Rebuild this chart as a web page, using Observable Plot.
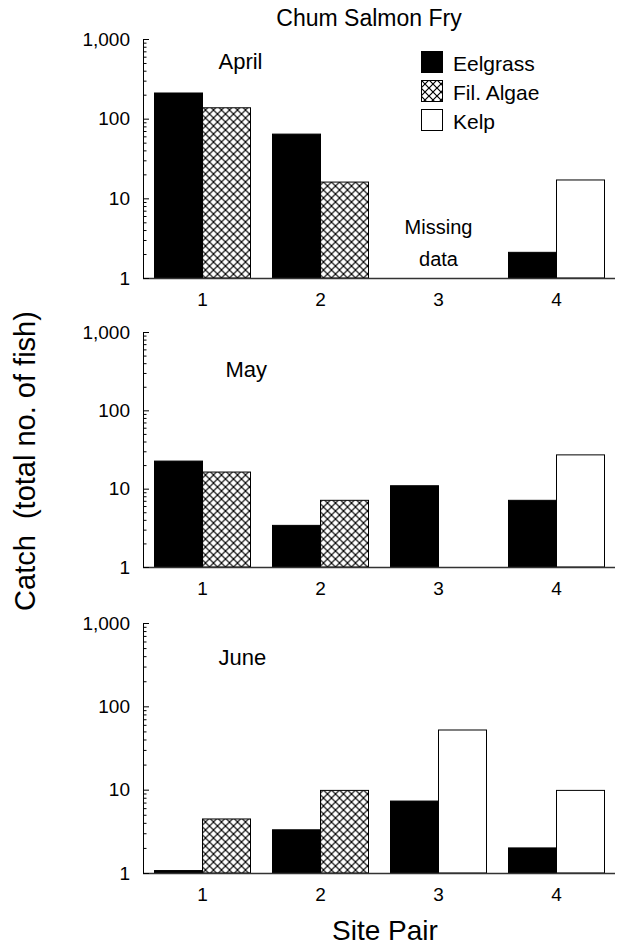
<!DOCTYPE html>
<html>
<head>
<meta charset="utf-8">
<script src="https://cdn.jsdelivr.net/npm/d3@7"></script>
<script src="https://cdn.jsdelivr.net/npm/@observablehq/plot@0.6"></script>
<style>
  html, body { margin: 0; padding: 0; background: #fff; }
  #root { position: relative; width: 617px; height: 948px; overflow: hidden; background: #fff;
          font-family: "Liberation Sans", Arial, sans-serif; color: #000; }
  #root > svg.panel { position: absolute; left: 0; }
  #overlay { position: absolute; left: 0; top: 0; pointer-events: none; overflow: visible; }
</style>
</head>
<body>
<div id="root"></div>
<script>
// ---------------- data ----------------
const sites = [1, 2, 3, 4];
const habitats = ["Eelgrass", "Fil. Algae", "Kelp"];
// habitat paired with eelgrass at each site pair
const pairedHabitat = ["Fil. Algae", "Fil. Algae", "Kelp", "Kelp"];
const months = ["April", "May", "June"];
const eelgrassApril = [210, 64, null, 2.1];
const pairedApril   = [137, 16, null, 17];
const eelgrassMay   = [22.5, 3.4, 10.9, 7.1];
const pairedMay     = [16.3, 7.1, null, 27];
const eelgrassJune  = [1.07, 3.3, 7.3, 2.0];
const pairedJune    = [4.45, 9.8, 52, 9.8];
const yTicksMajor = [1, 10, 100, 1000];
const yTickLabels = ["1", "10", "100", "1,000"];
const yTicksMinor = [2, 3, 4, 5, 6, 7, 8, 9, 20, 30, 40, 50, 60, 70, 80, 90, 200, 300, 400, 500, 600, 700, 800, 900];
const missingNote = {month: "April", site: 3, text: "Missing\ndata"};
const titleText = "Chum Salmon Fry";
const yTitle = "Catch  (total no. of fish)";
const xTitle = "Site Pair";

// ---------------- layout ----------------
const W = 617, marginLeft = 141.5, marginTop = 5, marginBottom = 45;
const panels = [
  {month: "April", eel: eelgrassApril, other: pairedApril, frameTop: 39.3, frameH: 239, labelDy: 14},
  {month: "May",   eel: eelgrassMay,   other: pairedMay,   frameTop: 331.7, frameH: 235, labelDy: 29, labelDx: 82},
  {month: "June",  eel: eelgrassJune,  other: pairedJune,  frameTop: 623.3, frameH: 250, labelDy: 26}
];

function rowsFor(eel, other) {
  const rows = [];
  sites.forEach((s, i) => {
    if (eel[i] != null) rows.push({site: s, slot: "left", habitat: "Eelgrass", value: eel[i]});
    if (other[i] != null) rows.push({site: s, slot: "right", habitat: pairedHabitat[i], value: other[i]});
  });
  return rows;
}

const root = document.getElementById("root");
const hasAxisMarks = typeof Plot.axisY === "function";
const fmtMajor = d => { const i = yTicksMajor.indexOf(d); return i >= 0 ? yTickLabels[i] : ""; };

panels.forEach((p) => {
  const rows = rowsFor(p.eel, p.other);
  const marks = [
    Plot.barY(rows, {fx: "site", x: "slot", y1: 1, y2: "value", fill: "habitat", stroke: "#000", strokeWidth: 1}),
    Plot.ruleY([1], {stroke: "#333", strokeWidth: 1.3}),
    Plot.text([{site: 1, label: p.month}], {
      fx: "site", text: "label", frameAnchor: "top-left", textAnchor: "start", lineAnchor: "top",
      dx: p.labelDx ?? 75, dy: p.labelDy, fontSize: 22
    })
  ];
  if (p.month === missingNote.month) {
    marks.push(Plot.text([missingNote], {
      fx: "site", text: "text", frameAnchor: "bottom", lineAnchor: "bottom", dy: -13,
      fontSize: 20, lineHeight: 1.6
    }));
  }
  const opts = {
    width: W, height: marginTop + p.frameH + marginBottom,
    marginLeft, marginRight: 0, marginTop, marginBottom,
    style: {fontFamily: "'Liberation Sans', Arial, sans-serif", fontSize: "19px", color: "#000", background: "transparent", overflow: "visible"},
    fx: {domain: sites, padding: 0, label: null},
    x: {domain: ["left", "right"], paddingInner: 0, paddingOuter: 0.228, axis: null},
    y: {type: "log", domain: [1, 1000], label: null},
    color: {domain: habitats, range: ["#000", "url(#hatch)", "#fff"]},
    marks
  };
  if (hasAxisMarks) {
    opts.y.axis = null;
    opts.marks = [
      ...marks,
      Plot.frame({anchor: "left", facetAnchor: "left", stroke: "#000", strokeWidth: 1}),
      Plot.axisY(yTicksMajor, {tickSize: -6, fill: "none", label: null, stroke: "#000"}),
      Plot.axisY(yTicksMinor, {tickSize: -3.5, fill: "none", label: null, stroke: "#000"}),
      Plot.axisY(yTicksMajor, {tickSize: 0, tickPadding: 13.5, tickFormat: fmtMajor, label: null, fontSize: 19}),
      Plot.axisFx({anchor: "bottom", tickSize: 0, tickPadding: 14, label: null, fontSize: 19})
    ];
  } else {
    opts.y = {...opts.y, ticks: [...yTicksMajor, ...yTicksMinor], tickFormat: fmtMajor, tickSize: -5, tickPadding: 13.5, line: true};
    opts.fx = {...opts.fx, axis: "bottom", tickSize: 0, tickPadding: 14};
  }
  const svg = Plot.plot(opts);
  svg.classList.add("panel");
  svg.style.top = (p.frameTop - marginTop) + "px";
  root.appendChild(svg);
});

// ---------------- overlay: pattern, title, axis titles, legend ----------------
const ov = d3.select(root).append("svg").attr("id", "overlay").attr("width", W).attr("height", 948)
  .attr("font-family", "'Liberation Sans', Arial, sans-serif");
const pat = ov.append("defs").append("pattern").attr("id", "hatch")
  .attr("patternUnits", "userSpaceOnUse").attr("width", 8).attr("height", 8);
pat.append("rect").attr("width", 8).attr("height", 8).attr("fill", "#fff");
pat.append("path").attr("d", "M-1,-1L9,9M9,-1L-1,9").attr("stroke", "#000").attr("stroke-width", 1.2);

ov.append("text").attr("x", 369).attr("y", 26).attr("text-anchor", "middle").attr("font-size", 23).text(titleText);
ov.append("text").attr("transform", "translate(35,461) rotate(-90)").attr("text-anchor", "middle")
  .attr("font-size", 29).style("white-space", "pre").text(yTitle);
ov.append("text").attr("x", 385).attr("y", 940).attr("text-anchor", "middle").attr("font-size", 28).text(xTitle);

const legendFill = {"Eelgrass": "#000", "Fil. Algae": "url(#hatch)", "Kelp": "#fff"};
const lg = ov.append("g").attr("transform", "translate(421,51)");
habitats.forEach((h, i) => {
  const g = lg.append("g").attr("transform", `translate(0,${i * 29})`);
  g.append("rect").attr("x", 0.5).attr("y", 0.5).attr("width", 21).attr("height", 21)
    .attr("fill", legendFill[h]).attr("stroke", "#000").attr("stroke-width", 1);
  g.append("text").attr("x", 32).attr("y", 20).attr("font-size", 21).text(h);
});
</script>
</body>
</html>
